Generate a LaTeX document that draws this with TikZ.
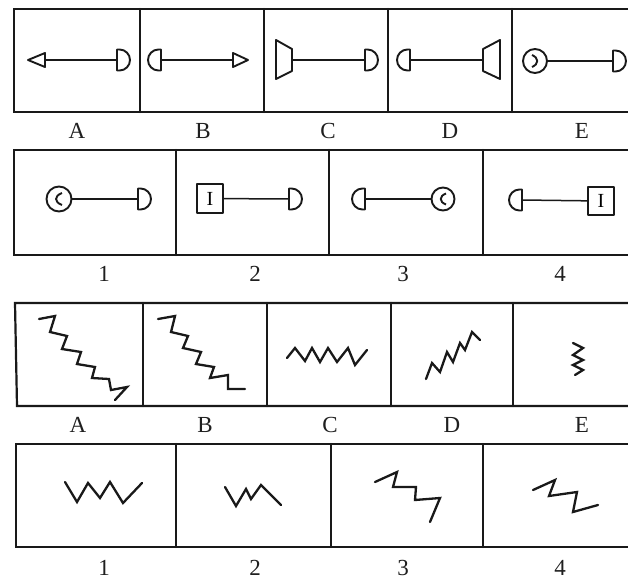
\documentclass[tikz,border=0pt]{standalone}
\usepackage{fontspec}
\setmainfont{Liberation Serif}
\begin{document}
\begin{tikzpicture}[x=1pt,y=1pt,yscale=-1,
  ink/.style={draw=black!90},
  frame/.style={ink, line width=2.2pt, line cap=round},
  lnk/.style={ink, line width=1.5pt},
  shp/.style={ink, line width=1.9pt, line join=round},
  zz/.style={ink, line width=2.3pt, line join=miter, line cap=round},
  lab/.style={font=\fontsize{23}{25}\selectfont, text=black!88},
  ring/.style={shp, circle, inner sep=0pt},
  sq/.style={shp, rectangle, inner sep=0pt, font=\fontsize{20}{22}\selectfont},
  pics/dR/.style={code={\draw[shp] (0,-10.5) -- (0,10.5) -- (2.5,10.5) arc[start angle=90,end angle=-90,radius=10.5] -- cycle;}},
  pics/dL/.style={code={\draw[shp] (0,-10.5) -- (0,10.5) -- (-2.5,10.5) arc[start angle=90,end angle=270,radius=10.5] -- cycle;}}
]
\useasboundingbox[fill=white] (0,0) rectangle (628,581);

% ---------- frames ----------
% row 1
\draw[frame] (628,9) -- (14,9) -- (14,112) -- (628,112);
\foreach \x in {140,264,388,512} \draw[frame] (\x,9) -- (\x,112);
% row 2
\draw[frame] (628,150) -- (14,150) -- (14,255) -- (628,255);
\foreach \x in {176,329,483} \draw[frame] (\x,150) -- (\x,255);
% row 3
\draw[frame] (628,303) -- (15,303) -- (17,406) -- (628,406);
\foreach \x in {143,267,391,513} \draw[frame] (\x,303) -- (\x,406);
% row 4
\draw[frame] (628,444) -- (16,444) -- (16,547) -- (628,547);
\foreach \x in {176,331,483} \draw[frame] (\x,444) -- (\x,547);

% ---------- row 1 ----------
% A
\coordinate (a1) at (45,60); \coordinate (a2) at (117,60);
\draw[shp] (45,53) -- (28,60) -- (45,67) -- cycle;
\pic at (a2) {dR};
\draw[lnk] (a1) -- (a2);
% B
\coordinate (b1) at (161,60); \coordinate (b2) at (233,60);
\pic at (b1) {dL};
\draw[shp] (233,53) -- (248,60) -- (233,67) -- cycle;
\draw[lnk] (b1) -- (b2);
% C
\coordinate (c1) at (292,60); \coordinate (c2) at (365,60);
\draw[shp] (276,40) -- (292,49) -- (292,71) -- (276,79) -- cycle;
\pic at (c2) {dR};
\draw[lnk] (c1) -- (c2);
% D
\coordinate (d1) at (410,60); \coordinate (d2) at (483,60);
\pic at (d1) {dL};
\draw[shp] (483,49) -- (500,40) -- (500,79) -- (483,71) -- cycle;
\draw[lnk] (d1) -- (d2);
% E
\node[ring, minimum size=24] (e1) at (535,61) {};
\draw[shp] (532,55) .. controls (539,58) and (539,64) .. (532,67);
\coordinate (e2) at (613,61);
\pic at (e2) {dR};
\draw[lnk] (e1) -- (e2);

\node[lab] (lA1) at (77,131) {A};
\node[lab] (lB1) at (203,131) {B};
\node[lab] (lC1) at (328,131) {C};
\node[lab] (lD1) at (450,131) {D};
\node[lab] (lE1) at (582,131) {E};

% ---------- row 2 ----------
% 1
\node[ring, minimum size=25] (o1) at (59,199) {};
\draw[shp] (62,193) .. controls (54,196) and (54,202) .. (62,205);
\coordinate (o1d) at (138,199);
\pic at (o1d) {dR};
\draw[lnk] (o1) -- (o1d);
% 2
\node[sq, minimum width=26, minimum height=29] (s2) at (210,198.5) {I};
\coordinate (s2d) at (289,199);
\pic at (s2d) {dR};
\draw[lnk] (s2) -- (s2d);
% 3
\coordinate (o3d) at (365,199);
\pic at (o3d) {dL};
\node[ring, minimum size=23] (o3) at (443,199) {};
\draw[shp] (446,193.5) .. controls (439,196) and (439,202) .. (446,204.5);
\draw[lnk] (o3d) -- (o3);
% 4
\coordinate (s4d) at (522,200);
\pic at (s4d) {dL};
\node[sq, minimum width=26, minimum height=28] (s4) at (601,201) {I};
\draw[lnk] (s4d) -- (s4);

\node[lab] (l1a) at (104,274) {1};
\node[lab] (l2a) at (255,274) {2};
\node[lab] (l3a) at (403,274) {3};
\node[lab] (l4a) at (560,274) {4};

% ---------- row 3 zigzags ----------
\draw[zz] (39,319) -- (55,316) -- (50,332) -- (67,336) -- (62,349) -- (81,352) -- (77,364) -- (95,367) -- (92,378) -- (109,379) -- (111,390) -- (127,387) -- (115,400);
\draw[zz] (158,319) -- (175,316) -- (171,332) -- (188,336) -- (183,348) -- (201,352) -- (196,364) -- (214,367) -- (210,378) -- (228,375) -- (228,389) -- (245,389);
\draw[zz] (287,358) -- (295,348) -- (305,361) -- (312,348) -- (320,362) -- (328,348) -- (337,362) -- (348,348) -- (355,365) -- (367,350);
\draw[zz] (426,379) -- (432,363) -- (440,372) -- (447,352) -- (453,362) -- (460,343) -- (465,350) -- (472,332) -- (480,340);
\draw[zz] (573,343) -- (583,348) -- (573,355) -- (583,360) -- (573,365) -- (583,370) -- (575,375);

\node[lab] (lA3) at (78,425) {A};
\node[lab] (lB3) at (205,425) {B};
\node[lab] (lC3) at (330,425) {C};
\node[lab] (lD3) at (452,425) {D};
\node[lab] (lE3) at (582,425) {E};

% ---------- row 4 zigzags ----------
\draw[zz] (65,482) -- (77,502) -- (88,483) -- (100,498) -- (110,482) -- (123,503) -- (142,483);
\draw[zz] (225,487) -- (236,506) -- (246,489) -- (251,499) -- (261,485) -- (281,505);
\draw[zz] (375,482) -- (397,472) -- (393,487) -- (416,487) -- (415,500) -- (440,498) -- (430,522);
\draw[zz] (533,490) -- (555,480) -- (549,496) -- (577,492) -- (573,512) -- (598,505);

\node[lab] (l1b) at (104,568) {1};
\node[lab] (l2b) at (255,568) {2};
\node[lab] (l3b) at (403,568) {3};
\node[lab] (l4b) at (560,568) {4};
\end{tikzpicture}
\end{document}
